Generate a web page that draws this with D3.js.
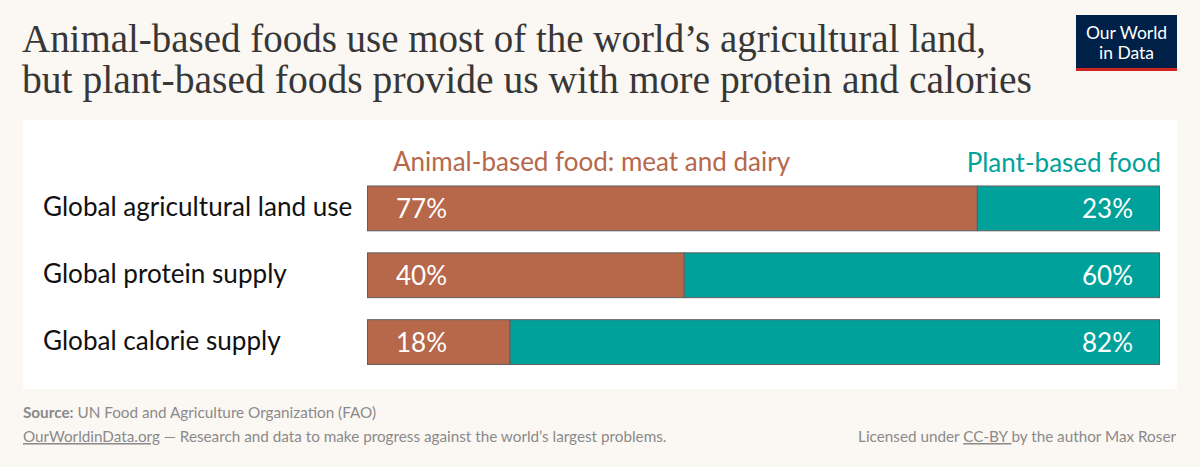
<!DOCTYPE html>
<html>
<head>
<meta charset="utf-8">
<script src="https://cdn.jsdelivr.net/npm/d3@7"></script>
<style>
  html, body { margin: 0; padding: 0; background: #fbf7f3; }
  svg { display: block; }
  text { font-family: Lato, sans-serif; }
</style>
</head>
<body>
<svg id="chart" width="1200" height="467"></svg>
<script>
const categories = ['Global agricultural land use', 'Global protein supply', 'Global calorie supply'];
const animalValues = [77, 40, 18];
const plantValues = [23, 60, 82];
const titleLines = [
    'Animal-based foods use most of the world\u2019s agricultural land,',
    'but plant-based foods provide us with more protein and calories'
];

const animalColor = '#b7674a';
const plantColor = '#00a19a';

const svg = d3.select('#chart');

// white panel behind the bars
svg.append('rect').attr('x', 23).attr('y', 120).attr('width', 1154).attr('height', 269).attr('fill', '#fff');

// title
svg.selectAll('.title')
    .data(titleLines)
    .join('text')
    .attr('class', 'title')
    .attr('x', 22)
    .attr('y', (d, i) => 52 + i * 41)
    .attr('textLength', (d, i) => [964, 1010][i])
    .attr('lengthAdjust', 'spacingAndGlyphs')
    .style('font-family', '"Liberation Serif", serif')
    .style('font-size', '40px')
    .attr('fill', '#373737')
    .text(d => d);

// logo
svg.append('rect').attr('x', 1076).attr('y', 15).attr('width', 101).attr('height', 53).attr('fill', '#002147');
svg.append('rect').attr('x', 1076).attr('y', 68).attr('width', 101).attr('height', 3).attr('fill', '#ce261e');
svg.selectAll('.logo')
    .data(['Our World', 'in Data'])
    .join('text')
    .attr('class', 'logo')
    .attr('x', 1126.5)
    .attr('y', (d, i) => 39 + i * 20)
    .attr('text-anchor', 'middle')
    .attr('fill', '#fff')
    .style('font-size', '17.5px')
    .text(d => d);

const x = d3.scaleLinear().domain([0, 100]).range([367.5, 1159.5]);
const y = d3.scaleBand().domain(categories).range([186, 364.5]).paddingInner(0.33);

// series headers
svg.append('text').attr('x', 393).attr('y', 171).attr('fill', animalColor)
    .style('font-size', '26px').text('Animal-based food: meat and dairy');
svg.append('text').attr('x', 1161).attr('y', 172).attr('text-anchor', 'end').attr('fill', plantColor)
    .style('font-size', '26px').text('Plant-based food');

const rows = categories.map((c, i) => ({ category: c, animal: animalValues[i], plant: plantValues[i] }));

// row labels
svg.selectAll('.row-label')
    .data(rows)
    .join('text')
    .attr('class', 'row-label')
    .attr('x', 43)
    .attr('y', d => y(d.category) + y.bandwidth() / 2 + 8)
    .attr('fill', '#111')
    .style('font-size', '26.1px')
    .text(d => d.category);

// bars
svg.selectAll('.animal')
    .data(rows)
    .join('rect')
    .attr('class', 'animal')
    .attr('x', x(0))
    .attr('y', d => y(d.category))
    .attr('width', d => x(d.animal) - x(0))
    .attr('height', y.bandwidth())
    .attr('fill', animalColor)
    .attr('stroke', '#5f5f5f')
    .attr('stroke-width', 1);

svg.selectAll('.plant')
    .data(rows)
    .join('rect')
    .attr('class', 'plant')
    .attr('x', d => x(d.animal))
    .attr('y', d => y(d.category))
    .attr('width', d => x(100) - x(d.animal))
    .attr('height', y.bandwidth())
    .attr('fill', plantColor)
    .attr('stroke', '#5f5f5f')
    .attr('stroke-width', 1);

// value labels
svg.selectAll('.animal-value')
    .data(rows)
    .join('text')
    .attr('class', 'animal-value')
    .attr('x', 396)
    .attr('y', d => y(d.category) + y.bandwidth() / 2 + 10)
    .attr('fill', '#fff')
    .style('font-size', '26px')
    .text(d => d.animal + '%');

svg.selectAll('.plant-value')
    .data(rows)
    .join('text')
    .attr('class', 'plant-value')
    .attr('x', 1133)
    .attr('y', d => y(d.category) + y.bandwidth() / 2 + 10)
    .attr('text-anchor', 'end')
    .attr('fill', '#fff')
    .style('font-size', '26px')
    .text(d => d.plant + '%');

// footer
const footer = svg.append('g').attr('fill', '#8a8a8a').style('font-size', '15.28px');
const source = footer.append('text').attr('x', 23).attr('y', 418);
source.append('tspan').style('font-weight', 700).text('Source:');
source.append('tspan').text(' UN Food and Agriculture Organization (FAO)');
const site = footer.append('text').attr('x', 23).attr('y', 442);
site.append('tspan').attr('text-decoration', 'underline').text('OurWorldinData.org');
site.append('tspan').text(' \u2014 Research and data to make progress against the world\u2019s largest problems.');
const licence = footer.append('text').attr('x', 1176).attr('y', 442).attr('text-anchor', 'end');
licence.append('tspan').text('Licensed under ');
licence.append('tspan').attr('text-decoration', 'underline').text('CC-BY ');
licence.append('tspan').text('by the author Max Roser');
</script>
</body>
</html>
